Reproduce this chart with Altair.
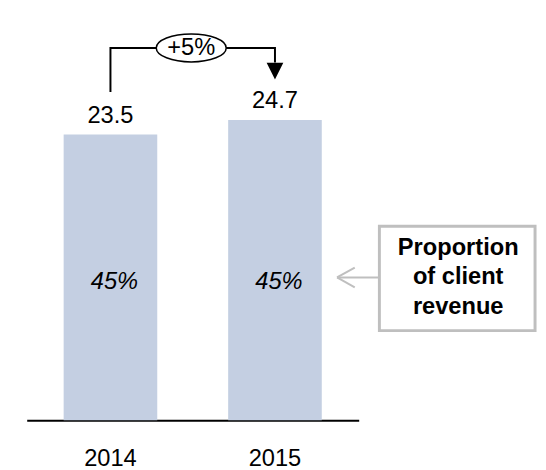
import altair as alt
import pandas as pd

# ---- data ----
years = ["2014", "2015"]
values = [23.5, 24.7]
shares = ["45%", "45%"]
change_text = "+5%"
legend_lines = ["Proportion", "of client", "revenue"]
# bracket levels (in value units): left start, top, right end
bracket_years = ["2014", "2014", "2015", "2015"]
bracket_levels = [27.0, 30.63, 30.63, 29.42]
arrow_level = 28.73

FONT = "Liberation Sans"
BAR = "#c4cfe2"
GRAY = "#bfbfbf"

bars_df = pd.DataFrame({"year": years, "value": values, "share": shares})
bracket_df = pd.DataFrame({"year": bracket_years, "y": bracket_levels,
                           "order": list(range(len(bracket_years)))})
one = pd.DataFrame({"k": [0]})
arrow_df = pd.DataFrame({"year": [years[1]], "y": [arrow_level]})
change_df = pd.DataFrame({"label": [change_text], "y": [bracket_levels[1]]})

xs = alt.Scale(type="band", domain=years, range=[19, 356],
               paddingInner=0.431, paddingOuter=0.2245)
ys = alt.Scale(domain=[0, 33.63], nice=False, zero=True)

X_axis = alt.X("year:N", scale=xs,
               axis=alt.Axis(title=None, labelAngle=0, labelFont=FONT,
                             labelFontSize=24, labelColor="black",
                             labelPadding=39, labelBaseline="middle",
                             ticks=False, tickSize=0, domainColor="black",
                             domainWidth=2, grid=False))
X = alt.X("year:N", scale=xs)

bars = alt.Chart(bars_df).mark_bar(color=BAR).encode(
    x=X_axis, y=alt.Y("value:Q", scale=ys, axis=None))

value_labels = alt.Chart(bars_df).mark_text(
    font=FONT, fontSize=24, color="black", baseline="middle", dy=-19
).encode(x=X, y=alt.Y("value:Q", scale=ys), text=alt.Text("value:Q", format=".1f"))

share_labels = alt.Chart(bars_df).mark_text(
    font=FONT, fontSize=24, fontStyle="italic", color="black",
    baseline="middle", dx=4
).encode(x=X, y=alt.value(275), text="share:N")

bracket = alt.Chart(bracket_df).mark_line(color="black", strokeWidth=2).encode(
    x=X, y=alt.Y("y:Q", scale=ys), order="order:Q")

ellipse = alt.Chart(change_df).mark_point(
    shape="M -1 0 A 1 0.4 0 1 1 1 0 A 1 0.4 0 1 1 -1 0 Z",
    size=71 * 71, filled=True, fill="white", stroke="black",
    strokeWidth=1.5, opacity=1
).encode(x=alt.value(186), y=alt.Y("y:Q", scale=ys))

change_label = alt.Chart(change_df).mark_text(
    font=FONT, fontSize=24, color="black", baseline="middle"
).encode(x=alt.value(186), y=alt.Y("y:Q", scale=ys), text="label:N")

arrowhead = alt.Chart(arrow_df).mark_point(
    shape="M -1 -1 L 1 -1 L 0 1 Z", size=17 * 17, filled=True,
    color="black", opacity=1
).encode(x=X, y=alt.Y("y:Q", scale=ys))

box = alt.Chart(one).mark_rect(fill="white", stroke=GRAY, strokeWidth=3).encode(
    x=alt.value(377), x2=alt.value(535), y=alt.value(218), y2=alt.value(324))

box_text = alt.Chart(one).mark_text(
    text=legend_lines, font=FONT, fontSize=24, fontWeight="bold",
    color="black", lineHeight=30, baseline="middle", align="center"
).encode(x=alt.value(457), y=alt.value(240))

stem = alt.Chart(one).mark_rule(color=GRAY, strokeWidth=2).encode(
    x=alt.value(334), x2=alt.value(377), y=alt.value(270), y2=alt.value(270))
arm1 = alt.Chart(one).mark_rule(color=GRAY, strokeWidth=2).encode(
    x=alt.value(334), x2=alt.value(352), y=alt.value(270), y2=alt.value(260))
arm2 = alt.Chart(one).mark_rule(color=GRAY, strokeWidth=2).encode(
    x=alt.value(334), x2=alt.value(352), y=alt.value(270), y2=alt.value(280))

chart = alt.layer(
    bars, value_labels, share_labels, bracket, ellipse, change_label,
    arrowhead, box, box_text, stem, arm1, arm2
).properties(
    width=538, height=415,
    padding={"left": 0, "top": 0, "right": 0, "bottom": 47},
    autosize=alt.AutoSizeParams(type="none"),
).configure_view(stroke=None)

chart.save("out.html", embed_options={"renderer": "svg", "actions": False})
